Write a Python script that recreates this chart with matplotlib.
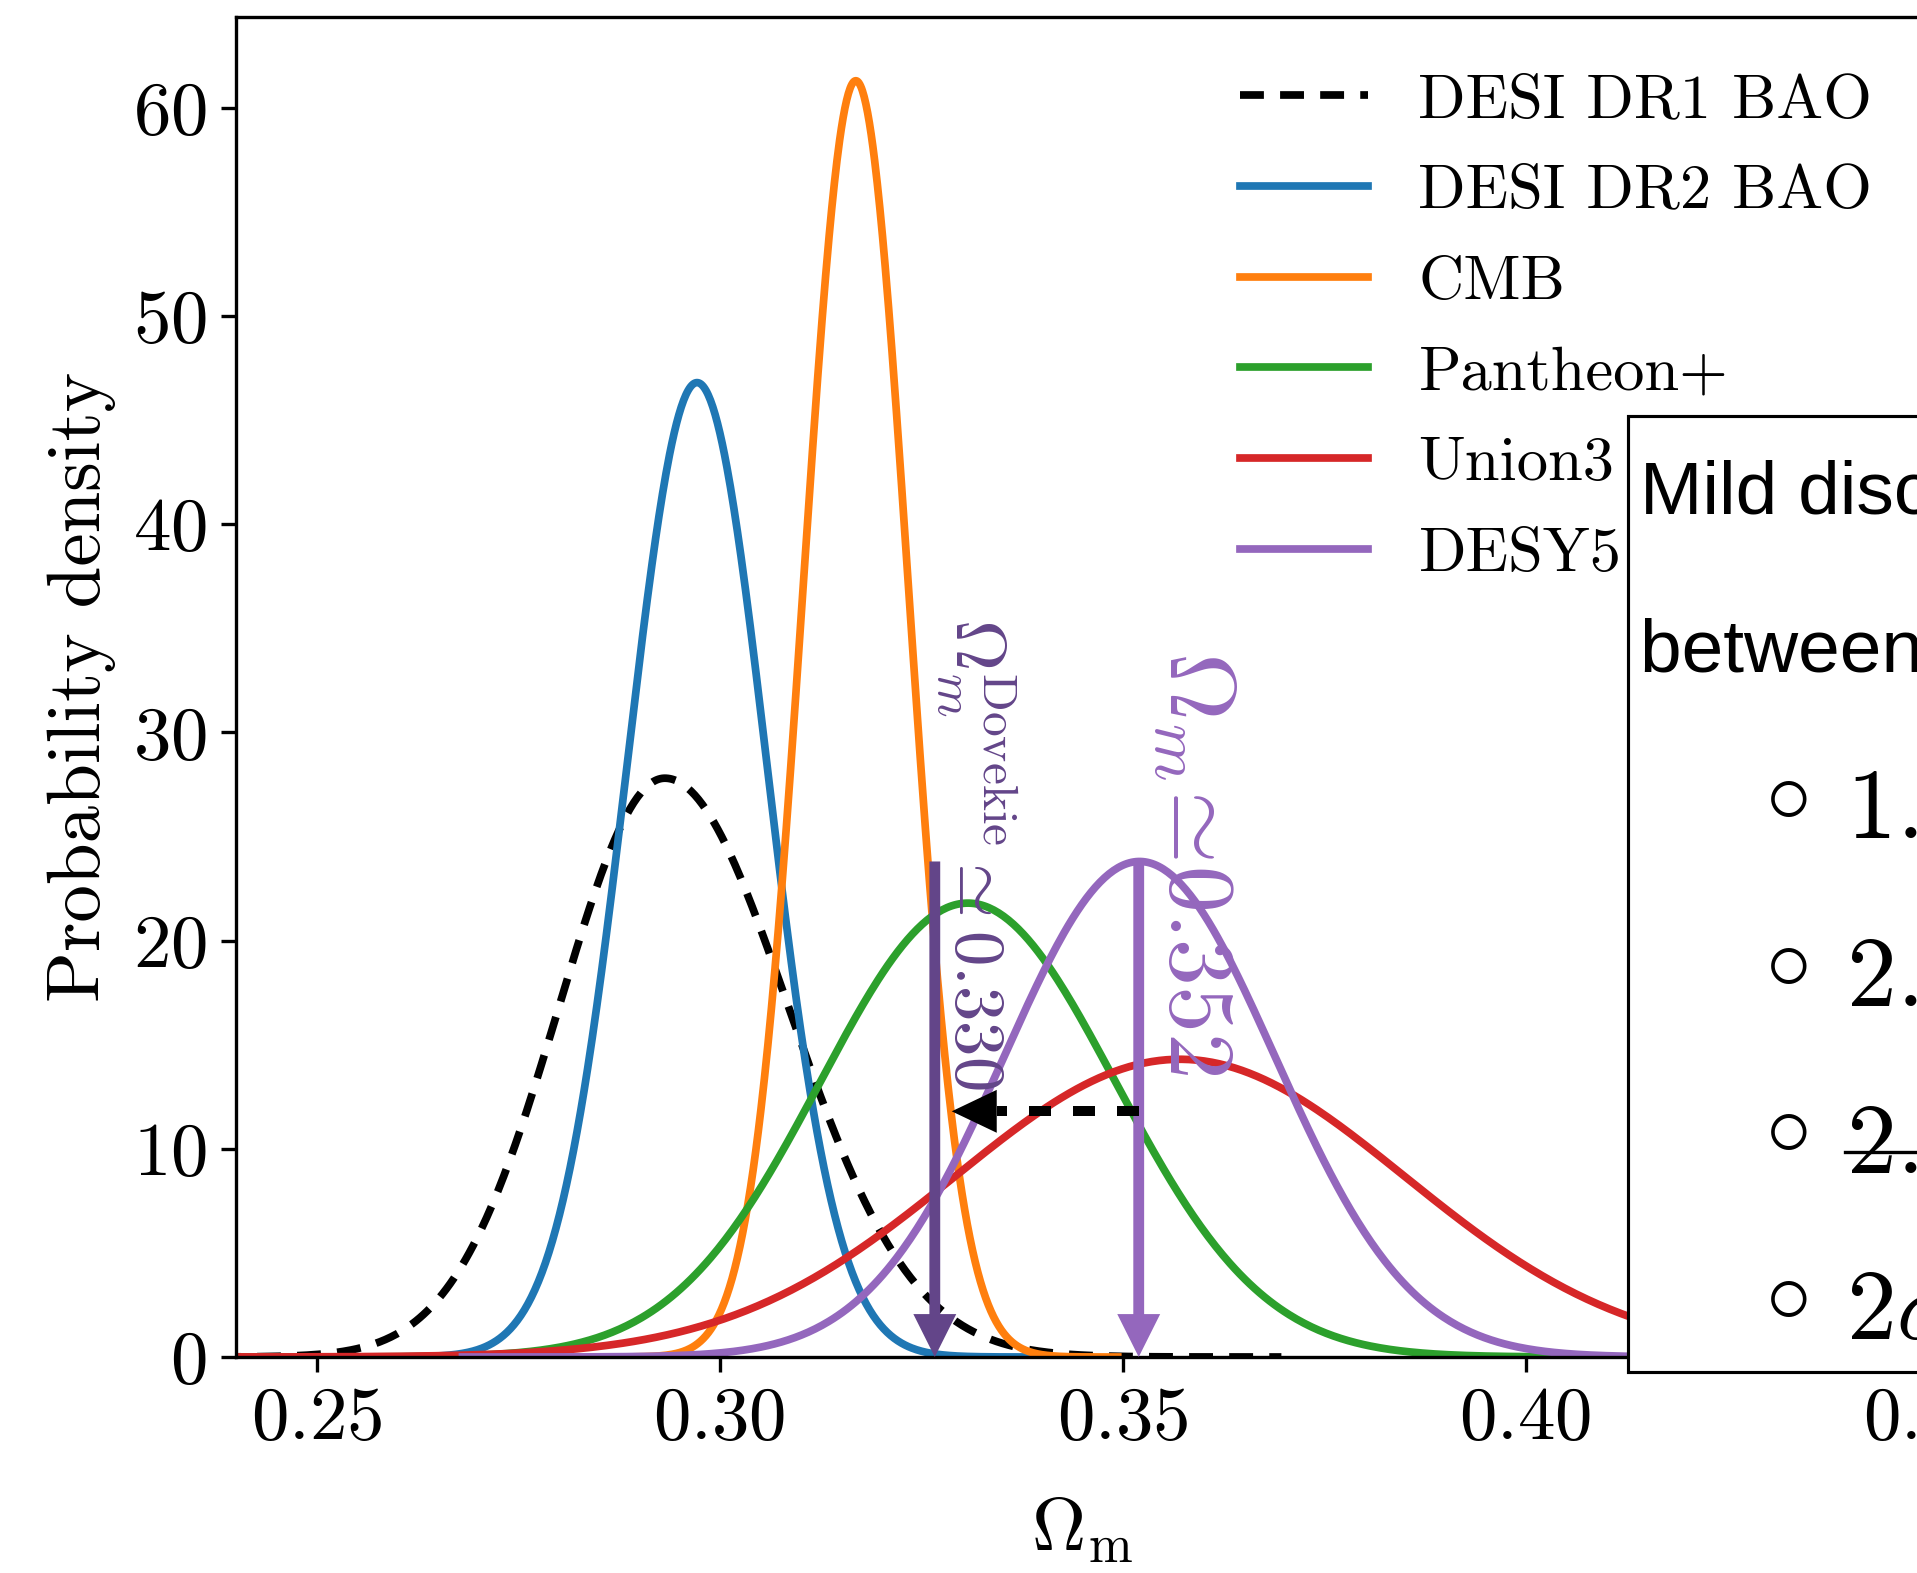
import numpy as np
import matplotlib
matplotlib.use("Agg")
import matplotlib.pyplot as plt
from matplotlib.patches import Rectangle
from matplotlib.lines import Line2D

# ---------------- data ----------------
labels = ["DESI DR1 BAO", "DESI DR2 BAO", "CMB", "Pantheon+", "Union3", "DESY5"]
colors = ["black", "#1f77b4", "#ff7f0e", "#2ca02c", "#d62728", "#9467bd"]
styles = ["dashed", "solid", "solid", "solid", "solid", "solid"]
modes = [0.2932, 0.2972, 0.3169, 0.3308, 0.3571, 0.3521]
sigma_lo = [0.0131, 0.0087, 0.0065, 0.0183, 0.0279, 0.0168]
sigma_hi = [0.0153, 0.0087, 0.0065, 0.0183, 0.0279, 0.0168]
peaks = [27.8, 46.8, 61.3, 21.8, 14.3, 23.8]

omega_desy5 = 0.352
omega_dovekie = 0.330
arrow_x_dovekie = 0.3267
arrow_top = 23.8
shift_y = 11.8
shift_tip = 0.3288

xticks = [0.25, 0.30, 0.35, 0.40, 0.45]
yticks = [0, 10, 20, 30, 40, 50, 60]

box_title = ["Mild discrepancy", "between DESI and SNe:"]
box_items = [r"1.7$\sigma$ with Pantheon+", r"2.3$\sigma$ with Union3",
             r"2.9$\sigma$ with DESY5", r"2$\sigma$ with DESY5 Dovekie"]

# ---------------- style ----------------
plt.rcParams["font.family"] = "serif"
plt.rcParams["font.serif"] = ["cmr10"]
plt.rcParams["mathtext.fontset"] = "cm"
plt.rcParams["axes.formatter.use_mathtext"] = True
plt.rcParams["axes.unicode_minus"] = False

W, H = 1917, 1573
DPI = 300
fig = plt.figure(figsize=(W / DPI, H / DPI), dpi=DPI)

def fx(px):
    return px / W

def fy(py):
    return 1 - py / H

ax_left, ax_right, ax_top, ax_bottom = 236, 1928.6, 17, 1357
ax = fig.add_axes([fx(ax_left), fy(ax_bottom), (ax_right - ax_left) / W, (ax_bottom - ax_top) / H])

dovekie_col = "#634589"

for lab, c, ls, m, sl, sh, pk in zip(labels, colors, styles, modes, sigma_lo, sigma_hi, peaks):
    x = np.linspace(m - 5 * sl, m + 5 * sh, 600)
    s = np.where(x < m, sl, sh)
    y = pk * np.exp(-0.5 * ((x - m) / s) ** 2)
    if ls == "dashed":
        ax.plot(x, y, color=c, lw=1.85, dashes=(3.1, 2.1), label=lab)
    else:
        ax.plot(x, y, color=c, lw=1.85, label=lab)

# vertical arrows
ax.annotate("", xy=(arrow_x_dovekie, 0), xytext=(arrow_x_dovekie, arrow_top),
            arrowprops=dict(width=2.6, headwidth=10.3, headlength=10.3, shrink=0,
                            facecolor=dovekie_col, edgecolor="none"), zorder=5)
ax.annotate("", xy=(omega_desy5, 0), xytext=(omega_desy5, arrow_top),
            arrowprops=dict(width=2.6, headwidth=10.3, headlength=10.3, shrink=0,
                            facecolor="#9467bd", edgecolor="none"), zorder=5)

# horizontal dashed shift arrow
head_len_data = 0.0056
ax.plot([omega_desy5, shift_tip + head_len_data], [shift_y, shift_y], color="black",
        lw=2.4, dashes=(2.2, 2.2), solid_capstyle="butt", zorder=6)
ax.annotate("", xy=(shift_tip, shift_y), xytext=(shift_tip + head_len_data, shift_y),
            arrowprops=dict(width=0.01, headwidth=10.3, headlength=10.8, shrink=0,
                            facecolor="black", edgecolor="none"), zorder=6)

# rotated labels
ax.text(0.3319, 35.5, r"$\Omega_m^{\rm Dovekie} \simeq %.3f$" % omega_dovekie,
        rotation=-90, ha="center", va="top", fontsize=17, color=dovekie_col, zorder=4)
ax.text(0.3588, 33.9, r"$\Omega_m\!\simeq\! %.3f$" % omega_desy5,
        rotation=-90, ha="center", va="top", fontsize=22.5, color="#9467bd", zorder=4)

ax.set_xlim(0.24, 0.45)
ax.set_ylim(0, 64.36)
ax.set_xticks(xticks)
ax.set_yticks(yticks)
ax.tick_params(labelsize=18)
ax.set_xlabel(r"$\Omega_{\rm m}$", fontsize=18, labelpad=10)
ax.set_ylabel("Probability density", fontsize=18)

ax.legend(loc="upper right", frameon=False, fontsize=15, handlelength=2.05,
          labelspacing=0.56)

# text box (partly outside the figure)
fig.add_artist(Rectangle((fx(1628), fy(1372)), 0.5, (1372 - 416) / H,
                         transform=fig.transFigure, facecolor="white",
                         edgecolor="black", lw=0.75, zorder=10))
fig.text(fx(1640), fy(514), box_title[0], family="Liberation Sans", fontsize=18,
         ha="left", va="baseline", zorder=11)
fig.text(fx(1640), fy(671), box_title[1], family="Liberation Sans", fontsize=18,
         ha="left", va="baseline", zorder=11)
bullet_y = [797, 964, 1130, 1297]
item_base = [838, 1006, 1173, 1339]
for by, ib, item in zip(bullet_y, item_base, box_items):
    fig.text(fx(1786), fy(by), r"$\circ$", fontsize=22, ha="center", va="center", zorder=11)
    fig.text(fx(1846), fy(ib), item, fontsize=24, ha="left", va="baseline", zorder=11)
fig.add_artist(Line2D([fx(1845), 1.2], [fy(1152), fy(1152)], transform=fig.transFigure,
                      color="black", lw=0.8, zorder=12))

fig.savefig("out.png", dpi=DPI)
